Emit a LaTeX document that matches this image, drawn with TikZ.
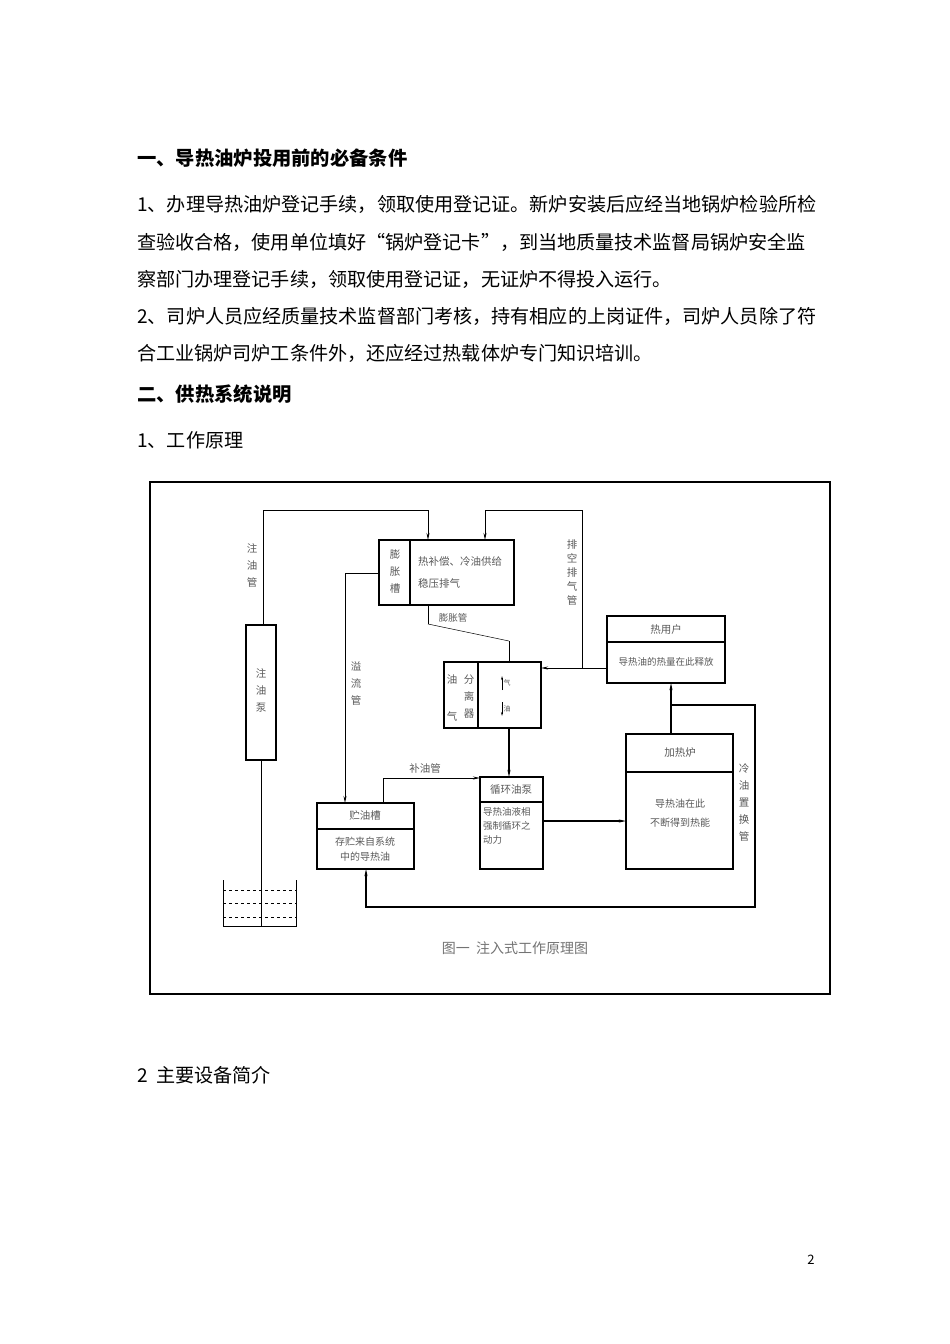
\documentclass[tikz,border=0pt]{standalone}
\usepackage{fontspec}
\setmainfont{Noto Sans CJK SC}
\usetikzlibrary{arrows.meta}
\begin{document}
\begin{tikzpicture}[x=1pt,y=-1pt,
  body/.style={anchor=west,inner sep=0,font=\fontsize{19.1}{20}\selectfont},
  head/.style={anchor=west,inner sep=0,font=\fontsize{19.3}{20}\selectfont\bfseries},
  lbl/.style={inner sep=0,text=black!65,font=\fontsize{10.5}{13}\selectfont,align=center},
  vl/.style={lbl,text width=11pt,font=\fontsize{10.5}{17}\selectfont},
  bx/.style={draw,line width=1.1pt},
  pipe/.style={line width=1pt},
  thick pipe/.style={line width=2pt},
  arr/.style={-{Stealth[length=7pt,width=3pt]}}]
\useasboundingbox (0,0) rectangle (950,1344);
\node[head] (h1) at (137,158) {一、导热油炉投用前的必备条件};
\node[body] (p1) at (137,204) {1、办理导热油炉登记手续，领取使用登记证。新炉安装后应经当地锅炉检验所检};
\node[body] (p2) at (137,242) {查验收合格，使用单位填好“锅炉登记卡”，到当地质量技术监督局锅炉安全监};
\node[body] (p3) at (137,279) {察部门办理登记手续，领取使用登记证，无证炉不得投入运行。};
\node[body] (p4) at (137,316) {2、司炉人员应经质量技术监督部门考核，持有相应的上岗证件，司炉人员除了符};
\node[body] (p5) at (137,353) {合工业锅炉司炉工条件外，还应经过热载体炉专门知识培训。};
\node[head] (h2) at (137,394) {二、供热系统说明};
\node[body] (p6) at (137,440) {1、工作原理};
\node[body] (p7) at (137,1075) {2\ \ 主要设备简介};
\node[inner sep=0,font=\fontsize{13}{14}\selectfont] (pg) at (811,1260) {2};
% frame
\draw[line width=1.2pt] (150,482) rectangle (830,994);
% boxes
\draw[bx] (246,625) rectangle (276,760);
\node[vl] (zyb) at (261,690) {注\\油\\泵};
\draw[bx] (379,540) rectangle (514,605); \draw[bx] (410,540)--(410,605);
\node[vl] (pzc) at (395,572) {膨\\胀\\槽};
\node[lbl,align=left,anchor=west,font=\fontsize{10.5}{22}\selectfont] (pzt) at (418,572) {热补偿、冷油供给\\稳压排气};
\draw[bx] (444,662) rectangle (541,728); \draw[bx] (478,662)--(478,728);
\node[lbl] at (452,679) {油}; \node[lbl] at (452,716) {气};
\node[vl] at (469,697) {分\\离\\器};
\draw[line width=0.8pt,-{Stealth[length=4pt,width=2pt]}] (502,690)--(502,676);
\node[lbl,font=\fontsize{7}{8}\selectfont] at (507,683) {气};
\draw[line width=0.8pt,-{Stealth[length=4pt,width=2pt]}] (502,702)--(502,716);
\node[lbl,font=\fontsize{7}{8}\selectfont] at (507,709) {油};
\draw[bx] (607,616) rectangle (725,683); \draw[bx] (607,642)--(725,642);
\node[lbl] (ryh) at (666,630) {热用户};
\node[lbl,font=\fontsize{9.5}{12}\selectfont] (ryt) at (666,662) {导热油的热量在此释放};
\draw[bx] (626,734) rectangle (733,869); \draw[bx] (626,772)--(733,772);
\node[lbl] (jrl) at (680,753) {加热炉};
\node[lbl,font=\fontsize{10}{19}\selectfont] (jrt) at (680,813) {导热油在此\\不断得到热能};
\draw[bx] (317,803) rectangle (414,869); \draw[bx] (317,829)--(414,829);
\node[lbl] (zyc) at (365,816) {贮油槽};
\node[lbl,font=\fontsize{10}{15}\selectfont] (zyt) at (365,849) {存贮来自系统\\中的导热油};
\draw[bx] (480,777) rectangle (543,869); \draw[bx] (480,802)--(543,802);
\node[lbl] (xhb) at (511,790) {循环油泵};
\node[lbl,align=left,anchor=north west,font=\fontsize{9.5}{14}\selectfont] (xht) at (483,807) {导热油液相\\强制循环之\\动力};
% tank
\draw[line width=1pt] (223,880)--(223,926)--(296,926)--(296,880);
\foreach \yy in {890,903,917} \draw[dashed,line width=0.8pt] (223,\yy)--(296,\yy);
% pipes
\draw[pipe,arr] (263,625)--(263,510)--(428,510)--(428,540);
\node[vl] at (252,565) {注\\油\\管};
\draw[pipe] (261,760)--(261,926);
\draw[pipe,arr] (607,668)--(541,668);
\draw[pipe,arr] (582,668)--(582,510)--(485,510)--(485,540);
\node[vl,font=\fontsize{10.5}{14}\selectfont] at (572,573) {排\\空\\排\\气\\管};
\draw[pipe] (428,605)--(428,624);
\draw[line width=0.5pt] (428,624)--(509,641);
\draw[pipe] (509,641)--(509,662);
\node[lbl,font=\fontsize{9.5}{12}\selectfont] at (453,618) {膨胀管};
\draw[pipe,arr] (379,573)--(345,573)--(345,803);
\node[vl] at (356,684) {溢\\流\\管};
\draw[thick pipe,arr] (509,728)--(509,777);
\draw[pipe,arr] (383,803)--(383,778)--(480,778);
\node[lbl] at (425,768) {补油管};
\draw[thick pipe,arr] (543,821)--(626,821);
\draw[thick pipe,arr] (671,734)--(671,683);
\draw[thick pipe,arr] (671,705)--(755,705)--(755,907)--(366,907)--(366,869);
\node[vl] at (744,802) {冷\\油\\置\\换\\管};
\node[lbl,font=\fontsize{14}{16}\selectfont,text=black!55] (cap) at (515,948) {图一\ \ 注入式工作原理图};
\end{tikzpicture}
\end{document}
